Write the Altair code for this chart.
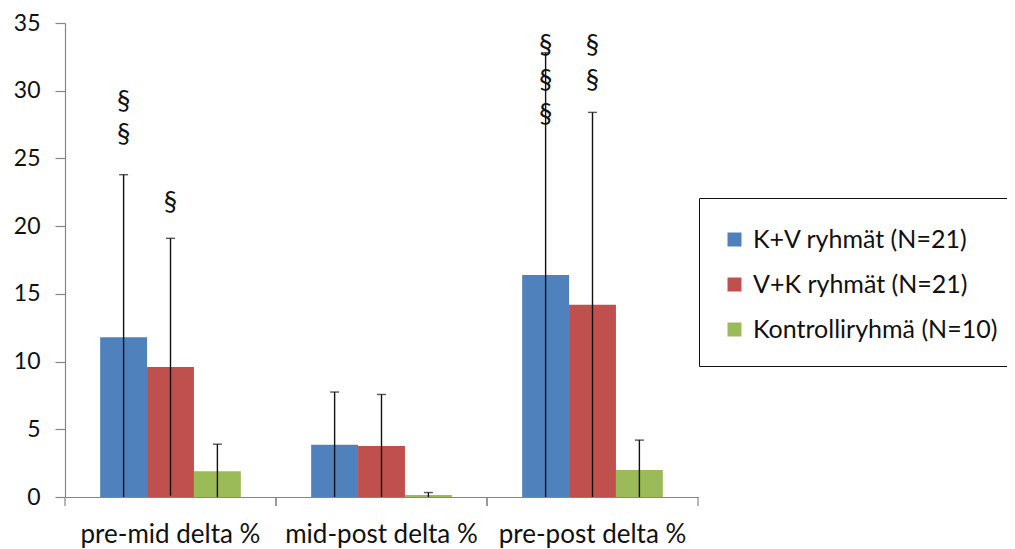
import altair as alt
import pandas as pd

categories = ["pre-mid delta %", "mid-post delta %", "pre-post delta %"]
groups = ["K+V ryhmät (N=21)", "V+K ryhmät (N=21)", "Kontrolliryhmä (N=10)"]
colors = ["#4F81BD", "#C0504D", "#9BBB59"]

means_kv = [11.8, 3.85, 16.4]
means_vk = [9.6, 3.77, 14.2]
means_k = [1.9, 0.15, 2.0]

err_kv = [12.0, 3.9, 16.4]
err_vk = [9.5, 3.8, 14.2]
err_k = [2.0, 0.18, 2.2]

# significance markers: (category, group, y-position value)
sig_cat = ["pre-mid delta %", "pre-mid delta %", "pre-mid delta %",
           "pre-post delta %", "pre-post delta %", "pre-post delta %",
           "pre-post delta %", "pre-post delta %"]
sig_grp = [groups[0], groups[0], groups[1],
           groups[0], groups[0], groups[0], groups[1], groups[1]]
sig_y = [29.2, 26.7, 21.7, 33.3, 30.7, 28.2, 33.3, 30.7]

rows = []
for g, m, e in zip(groups, [means_kv, means_vk, means_k], [err_kv, err_vk, err_k]):
    for c, mv, ev in zip(categories, m, e):
        rows.append({"cat": c, "grp": g, "mean": mv,
                     "lo": mv - ev, "hi": mv + ev})
df = pd.DataFrame(rows)
sig = pd.DataFrame({"cat": sig_cat, "grp": sig_grp, "y": sig_y, "t": ["§"] * len(sig_y)})
cats_df = pd.DataFrame({"cat": categories})

FONT = "Lato"
AXIS_GREY = "#868686"

x_axis = alt.Axis(orient="bottom", title=None, labelAngle=0, ticks=False,
                  labelFontSize=26, labelFont=FONT, labelColor="#111111",
                  labelPadding=24, labelLimit=400, domainColor=AXIS_GREY,
                  domainWidth=1.2, grid=False)
y_axis = alt.Axis(orient="left", title=None,
                  values=[0, 5, 10, 15, 20, 25, 30, 35], grid=False,
                  labelFontSize=23, labelFont=FONT, labelColor="#111111",
                  labelPadding=15, tickSize=10, domainColor=AXIS_GREY,
                  tickColor=AXIS_GREY, domainWidth=1.2, tickWidth=1.2)
xscale = alt.Scale(paddingInner=0, paddingOuter=0)
yscale = alt.Scale(domain=[0, 35], clamp=True, nice=False)


def X(**kw):
    return alt.X("cat:N", sort=categories, title=None, scale=xscale, axis=x_axis, **kw)


def Y(field):
    return alt.Y(field, scale=yscale, title=None, axis=y_axis)


xo = alt.XOffset("grp:N", sort=groups,
                 scale=alt.Scale(paddingInner=0, paddingOuter=0.75))
color = alt.Color("grp:N", sort=groups, title=" ",
                  scale=alt.Scale(domain=groups, range=colors),
                  legend=alt.Legend(orient="none", legendX=634, legendY=175,
                                    strokeColor="#111111",
                                    fillColor="white", padding=23,
                                    titleFontSize=6, titlePadding=0,
                                    symbolType="square", symbolSize=196,
                                    symbolStrokeWidth=0, labelFontSize=25,
                                    labelFont=FONT, labelColor="#111111",
                                    labelOffset=6, rowPadding=19,
                                    labelLimit=400))

bars = alt.Chart(df).mark_bar(size=46.9).encode(
    x=X(), xOffset=xo, y=Y("mean:Q"), color=color,
)

# category boundary ticks below the x axis
tick_start = alt.Chart(cats_df).mark_rule(color=AXIS_GREY, strokeWidth=1.2).encode(
    x=X(bandPosition=0), y=alt.value(474), y2=alt.value(483),
)
tick_end = alt.Chart(cats_df).mark_rule(color=AXIS_GREY, strokeWidth=1.2).encode(
    x=X(bandPosition=1), y=alt.value(474), y2=alt.value(483),
)

rules = alt.Chart(df).mark_rule(color="#111111", strokeWidth=1.4).encode(
    x=X(), xOffset=xo, y=Y("lo:Q"), y2="hi:Q",
)

caps = alt.Chart(df).mark_tick(color="#111111", thickness=1.4, size=9,
                               orient="horizontal").encode(
    x=X(), xOffset=xo, y=Y("hi:Q"),
)

marks = alt.Chart(sig).mark_text(font=FONT, fontSize=27, color="#111111",
                                 baseline="middle").encode(
    x=X(), xOffset=xo, y=Y("y:Q"), text="t:N",
)

chart = (bars + tick_start + tick_end + rules + caps + marks).properties(
    width=633, height=474,
    autosize=alt.AutoSizeParams(type="none"),
    padding={"left": 57, "top": 15, "right": 309, "bottom": 52},
    view=alt.ViewBackground(stroke="transparent", strokeWidth=0),
).configure_view(stroke="transparent", strokeWidth=0).configure_axisX(grid=False).configure(background="white")

chart.save("out.html", embed_options={"renderer": "svg", "actions": False})
